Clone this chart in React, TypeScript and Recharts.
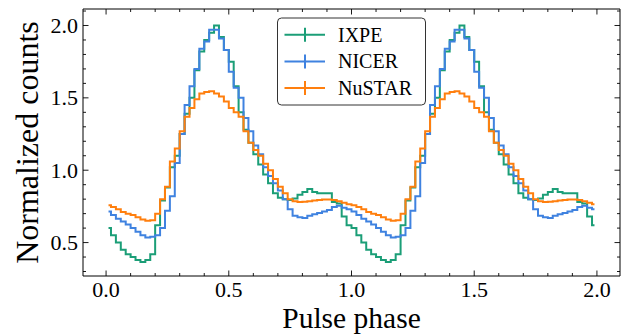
import React from 'react';
import { LineChart, Line, XAxis, YAxis, ReferenceArea } from 'recharts';

// ---- data (one pulse cycle, plotted twice) ----
const phaseBins = [
  0.01, 0.03, 0.05, 0.07, 0.09, 0.11, 0.13, 0.15, 0.17, 0.19,
  0.21, 0.23, 0.25, 0.27, 0.29, 0.31, 0.33, 0.35, 0.37, 0.39,
  0.41, 0.43, 0.45, 0.47, 0.49, 0.51, 0.53, 0.55, 0.57, 0.59,
  0.61, 0.63, 0.65, 0.67, 0.69, 0.71, 0.73, 0.75, 0.77, 0.79,
  0.81, 0.83, 0.85, 0.87, 0.89, 0.91, 0.93, 0.95, 0.97, 0.99,
];
const cycles = [0, 1];

const ixpe = [
  0.60, 0.55, 0.50, 0.45, 0.42, 0.40, 0.38, 0.365, 0.38, 0.42,
  0.62, 0.79, 0.88, 1.02, 1.10, 1.25, 1.39, 1.50, 1.69, 1.82,
  1.90, 1.95, 2.00, 1.92, 1.83, 1.75, 1.58, 1.40, 1.28, 1.19,
  1.11, 1.04, 0.97, 0.91, 0.84, 0.81, 0.80, 0.795, 0.805, 0.83,
  0.85, 0.87, 0.85, 0.84, 0.84, 0.84, 0.78, 0.77, 0.68, 0.62,
];
const nicer = [
  0.715, 0.69, 0.665, 0.645, 0.625, 0.60, 0.575, 0.55, 0.535, 0.54,
  0.55, 0.60, 0.72, 0.82, 1.05, 1.25, 1.45, 1.58, 1.70, 1.84,
  1.89, 1.97, 1.97, 1.91, 1.83, 1.68, 1.57, 1.50, 1.36, 1.27,
  1.17, 1.11, 1.02, 0.96, 0.91, 0.86, 0.80, 0.73, 0.685, 0.675,
  0.67, 0.685, 0.695, 0.705, 0.715, 0.725, 0.745, 0.755, 0.74, 0.73,
];
const nustar = [
  0.758, 0.745, 0.73, 0.712, 0.70, 0.69, 0.675, 0.66, 0.65, 0.655,
  0.70, 0.80, 0.885, 1.06, 1.15, 1.27, 1.37, 1.43, 1.49, 1.53,
  1.54, 1.545, 1.53, 1.51, 1.475, 1.43, 1.40, 1.37, 1.27, 1.19,
  1.14, 1.10, 1.045, 1.00, 0.94, 0.885, 0.84, 0.80, 0.785, 0.781,
  0.782, 0.785, 0.79, 0.795, 0.798, 0.798, 0.795, 0.785, 0.775, 0.765,
];

const seriesNames = ['IXPE', 'NICER', 'NuSTAR'];
const seriesKeys = ['ixpe', 'nicer', 'nustar'];
const seriesColors = ['#1b9e77', '#3f82e0', '#ff7f0e'];

const xTicks = [0, 0.1, 0.2, 0.3, 0.4, 0.5, 0.6, 0.7, 0.8, 0.9, 1.0, 1.1, 1.2, 1.3, 1.4, 1.5, 1.6, 1.7, 1.8, 1.9, 2.0];
const yTicks = [0.3, 0.4, 0.5, 0.6, 0.7, 0.8, 0.9, 1.0, 1.1, 1.2, 1.3, 1.4, 1.5, 1.6, 1.7, 1.8, 1.9, 2.0, 2.1];
const xDomain = [-0.094, 2.094];
const yDomain = [0.269, 2.114];
const xLabel = 'Pulse phase';
const yLabel = 'Normalized counts';

// ---- layout ----
const W = 636;
const H = 335;
const M = { top: 9, right: 16, bottom: 0, left: 0 };
const Y_AXIS_W = 83;
const X_AXIS_H = 59;
const PLOT_W = W - M.left - M.right - Y_AXIS_W;
const PLOT_H = H - M.top - M.bottom - X_AXIS_H;
const FONT = '"Liberation Serif", "Times New Roman", serif';

const isMajor = (v: number) => Math.abs(v * 2 - Math.round(v * 2)) < 1e-6;

const data = cycles.flatMap((c) =>
  phaseBins.map((p, i) => ({
    phase: +(p + c).toFixed(3),
    ixpe: ixpe[i],
    nicer: nicer[i],
    nustar: nustar[i],
  }))
);

const XTick = (props: any) => {
  const { x, y, payload } = props;
  const v = payload.value as number;
  const major = isMajor(v);
  const len = major ? 5.5 : 3;
  const top = y - PLOT_H;
  return (
    <g>
      <line x1={x} x2={x} y1={y} y2={y - len} stroke="#000" strokeWidth={0.9} />
      <line x1={x} x2={x} y1={top} y2={top + len} stroke="#000" strokeWidth={0.9} />
      {major && (
        <text x={x} y={y + 20.5} textAnchor="middle" fontSize={22} fontFamily={FONT} fill="#000">
          {v.toFixed(1)}
        </text>
      )}
    </g>
  );
};

const YTick = (props: any) => {
  const { x, y, payload } = props;
  const v = payload.value as number;
  const major = isMajor(v);
  const len = major ? 5.5 : 3;
  const right = x + PLOT_W;
  return (
    <g>
      <line x1={x} x2={x + len} y1={y} y2={y} stroke="#000" strokeWidth={0.9} />
      <line x1={right} x2={right - len} y1={y} y2={y} stroke="#000" strokeWidth={0.9} />
      {major && (
        <text x={x - 5} y={y + 7.5} textAnchor="end" fontSize={22} fontFamily={FONT} fill="#000">
          {v.toFixed(1)}
        </text>
      )}
    </g>
  );
};

const Legend = () => {
  const bx = 277.5;
  const by = 18;
  const rowY = [34.7, 61.5, 88];
  return (
    <g>
      <rect x={bx} y={by} width={148} height={87} rx={4} ry={4} fill="#fff" stroke="#333" strokeWidth={1} />
      {seriesNames.map((name, i) => (
        <g key={name}>
          <line x1={284.5} x2={325} y1={rowY[i]} y2={rowY[i]} stroke={seriesColors[i]} strokeWidth={2} />
          <line x1={305} x2={305} y1={rowY[i] - 7} y2={rowY[i] + 7} stroke={seriesColors[i]} strokeWidth={2} />
          <text x={338} y={rowY[i] + 6.8} fontSize={20} fontFamily={FONT} fill="#000">
            {name}
          </text>
        </g>
      ))}
    </g>
  );
};

export default function App() {
  return (
    <div style={{ position: 'absolute', left: 0, top: 0, width: W, height: H, background: '#fff' }}>
      <LineChart width={W} height={H} data={data} margin={M}>
        <XAxis
          dataKey="phase"
          type="number"
          domain={xDomain}
          allowDataOverflow
          ticks={xTicks}
          interval={0}
          height={X_AXIS_H}
          tickSize={0}
          tickMargin={0}
          axisLine={false}
          tickLine={false}
          tick={<XTick />}
        />
        <YAxis
          type="number"
          domain={yDomain}
          allowDataOverflow
          ticks={yTicks}
          interval={0}
          width={Y_AXIS_W}
          tickSize={0}
          tickMargin={0}
          axisLine={false}
          tickLine={false}
          tick={<YTick />}
        />
        <ReferenceArea
          x1={xDomain[0]}
          x2={xDomain[1]}
          y1={yDomain[0]}
          y2={yDomain[1]}
          fill="none"
          fillOpacity={0}
          stroke="#000"
          strokeWidth={1}
          ifOverflow="visible"
        />
        {seriesKeys.map((k, i) => (
          <Line
            key={k}
            dataKey={k}
            name={seriesNames[i]}
            type="step"
            stroke={seriesColors[i]}
            strokeWidth={2}
            dot={false}
            activeDot={false}
            isAnimationActive={false}
          />
        ))}
      </LineChart>
      <svg width={W} height={H} style={{ position: 'absolute', left: 0, top: 0, pointerEvents: 'none' }}>
        <Legend />
        <text x={M.left + Y_AXIS_W + PLOT_W / 2} y={328} textAnchor="middle" fontSize={29.5} fontFamily={FONT} fill="#000">
          {xLabel}
        </text>
        <text
          transform={`translate(38, ${M.top + PLOT_H / 2}) rotate(-90)`}
          textAnchor="middle"
          fontSize={32}
          fontFamily={FONT}
          fill="#000"
        >
          {yLabel}
        </text>
      </svg>
    </div>
  );
}
